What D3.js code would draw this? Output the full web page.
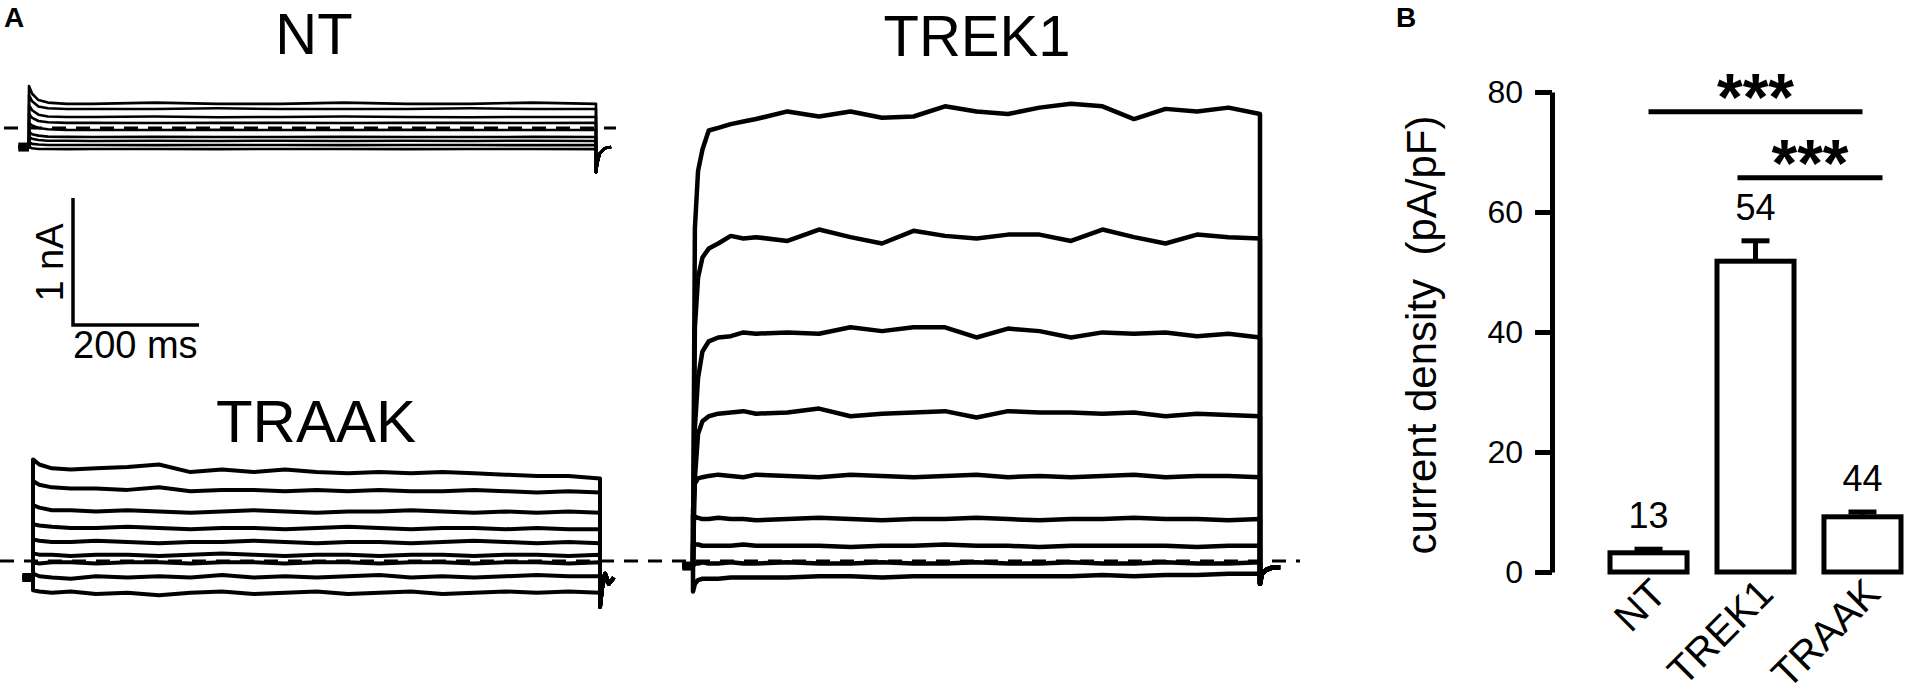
<!DOCTYPE html>
<html>
<head>
<meta charset="utf-8">
<script src="https://cdn.jsdelivr.net/npm/d3@7"></script>
<style>
  body { margin: 0; background: #fff; }
  svg { display: block; font-family: "Liberation Sans", Arial, sans-serif; }
  .pre { white-space: pre; }
</style>
</head>
<body>
<div id="fig"></div>
<script>
// ---------- panel B data ----------
var groups = ['NT', 'TREK1', 'TRAAK'];
var density = [3.2, 51.8, 9.2];      // pA/pF
var sem = [0.6, 3.4, 0.8];
var cellCount = [13, 54, 44];
var densityTicks = [0, 20, 40, 60, 80];
var comparisons = [['NT', 'TRAAK'], ['TREK1', 'TRAAK']];
var compLevels = [76.7, 65.7];
var compLabels = ['***', '***'];

// ---------- panel A data (ms, nA) ----------
var ntTime = [0, 5, 15, 30, 60, 100, 200, 300, 400, 500, 600, 700, 800, 900];
var ntTraces = [
  [0.33, 0.27, 0.22, 0.20, 0.19, 0.19, 0.20, 0.19, 0.19, 0.20, 0.19, 0.19, 0.20, 0.19],
  [0.26, 0.21, 0.17, 0.155, 0.15, 0.15, 0.15, 0.155, 0.15, 0.15, 0.15, 0.155, 0.15, 0.15],
  [0.18, 0.14, 0.105, 0.09, 0.087, 0.087, 0.09, 0.085, 0.087, 0.09, 0.087, 0.085, 0.087, 0.087],
  [0.11, 0.08, 0.055, 0.045, 0.04, 0.04, 0.039, 0.04, 0.04, 0.039, 0.04, 0.04, 0.039, 0.04],
  [0.04, 0.02, 0.0, -0.01, -0.015, -0.016, -0.016, -0.015, -0.016, -0.016, -0.015, -0.016, -0.016, -0.016],
  [-0.03, -0.05, -0.06, -0.068, -0.07, -0.071, -0.07, -0.071, -0.071, -0.07, -0.071, -0.071, -0.07, -0.071],
  [-0.07, -0.085, -0.095, -0.10, -0.10, -0.102, -0.10, -0.102, -0.10, -0.102, -0.10, -0.102, -0.10, -0.102],
  [-0.11, -0.125, -0.13, -0.134, -0.134, -0.134, -0.135, -0.134, -0.134, -0.135, -0.134, -0.134, -0.135, -0.134],
  [-0.15, -0.16, -0.165, -0.165, -0.166, -0.165, -0.165, -0.166, -0.165, -0.165, -0.166, -0.165, -0.165, -0.166]
];
var ntHold = -0.15;
var ntTailTime = [900, 902, 906, 914, 924];
var ntTail = [-0.35, -0.28, -0.2, -0.16, -0.15];

var trekTime = [0, 3, 8, 15, 25, 40, 60, 80, 100, 150, 200, 250, 300, 350, 400, 450, 500, 550, 600, 650, 700, 750, 800, 850, 900];
var trekTraces = [
  [0, 2.62, 3.07, 3.24, 3.39, 3.41, 3.44, 3.46, 3.48, 3.54, 3.50, 3.54, 3.49, 3.50, 3.58, 3.54, 3.52, 3.57, 3.60, 3.58, 3.48, 3.56, 3.54, 3.57, 3.52],
  [0, 1.84, 2.23, 2.39, 2.46, 2.50, 2.56, 2.54, 2.55, 2.52, 2.61, 2.55, 2.50, 2.60, 2.56, 2.54, 2.57, 2.57, 2.52, 2.61, 2.55, 2.50, 2.57, 2.55, 2.54],
  [0, 1.05, 1.44, 1.65, 1.73, 1.76, 1.77, 1.80, 1.79, 1.80, 1.79, 1.84, 1.81, 1.84, 1.84, 1.76, 1.83, 1.81, 1.76, 1.80, 1.79, 1.80, 1.77, 1.79, 1.76],
  [0, 0.65, 1.00, 1.10, 1.14, 1.16, 1.17, 1.18, 1.16, 1.17, 1.20, 1.14, 1.16, 1.17, 1.18, 1.13, 1.18, 1.17, 1.17, 1.16, 1.17, 1.14, 1.16, 1.15, 1.14],
  [0.40, 0.61, 0.65, 0.66, 0.67, 0.68, 0.67, 0.66, 0.68, 0.67, 0.66, 0.68, 0.67, 0.66, 0.67, 0.68, 0.66, 0.67, 0.66, 0.67, 0.68, 0.66, 0.67, 0.67, 0.66],
  [0.36, 0.35, 0.34, 0.33, 0.33, 0.34, 0.33, 0.33, 0.32, 0.33, 0.34, 0.33, 0.32, 0.33, 0.33, 0.34, 0.33, 0.32, 0.33, 0.33, 0.34, 0.33, 0.33, 0.32, 0.33],
  [0.14, 0.13, 0.13, 0.12, 0.12, 0.12, 0.12, 0.13, 0.12, 0.12, 0.12, 0.11, 0.12, 0.12, 0.13, 0.12, 0.12, 0.11, 0.12, 0.12, 0.12, 0.12, 0.11, 0.12, 0.12],
  [-0.03, -0.02, -0.02, -0.01, -0.02, -0.02, -0.01, -0.02, -0.02, -0.01, -0.02, -0.02, -0.01, -0.02, -0.02, -0.01, -0.02, -0.02, -0.01, -0.02, -0.02, -0.01, -0.02, -0.02, -0.01],
  [-0.24, -0.18, -0.15, -0.14, -0.14, -0.14, -0.13, -0.13, -0.13, -0.13, -0.12, -0.12, -0.13, -0.12, -0.12, -0.12, -0.12, -0.12, -0.12, -0.11, -0.12, -0.11, -0.11, -0.10, -0.10]
];
var trekHold = -0.04;
var trekTailTime = [900, 903, 910, 920, 932];
var trekTail = [-0.18, -0.10, -0.07, -0.05, -0.05];

var traakTime = [0, 10, 30, 60, 100, 150, 200, 250, 300, 350, 400, 450, 500, 550, 600, 650, 700, 750, 800, 850, 900];
var traakTraces = [
  [0.80, 0.76, 0.73, 0.72, 0.73, 0.74, 0.76, 0.70, 0.72, 0.70, 0.72, 0.70, 0.69, 0.70, 0.69, 0.70, 0.69, 0.68, 0.67, 0.67, 0.65],
  [0.63, 0.60, 0.58, 0.57, 0.57, 0.56, 0.58, 0.55, 0.56, 0.56, 0.55, 0.56, 0.55, 0.56, 0.55, 0.55, 0.56, 0.55, 0.54, 0.55, 0.54],
  [0.44, 0.42, 0.40, 0.40, 0.39, 0.40, 0.39, 0.38, 0.39, 0.40, 0.39, 0.38, 0.39, 0.39, 0.40, 0.39, 0.38, 0.39, 0.38, 0.39, 0.38],
  [0.29, 0.28, 0.27, 0.26, 0.26, 0.27, 0.26, 0.25, 0.26, 0.26, 0.25, 0.26, 0.27, 0.26, 0.25, 0.26, 0.26, 0.25, 0.26, 0.25, 0.25],
  [0.17, 0.16, 0.15, 0.15, 0.16, 0.15, 0.14, 0.15, 0.15, 0.16, 0.15, 0.14, 0.15, 0.15, 0.14, 0.15, 0.16, 0.15, 0.14, 0.15, 0.14],
  [0.06, 0.05, 0.05, 0.04, 0.05, 0.05, 0.04, 0.05, 0.06, 0.05, 0.04, 0.05, 0.05, 0.04, 0.05, 0.05, 0.04, 0.05, 0.05, 0.04, 0.05],
  [-0.01, -0.02, -0.01, -0.01, -0.02, -0.01, -0.01, -0.02, -0.01, -0.01, -0.02, -0.01, -0.01, -0.02, -0.01, -0.01, -0.02, -0.01, -0.01, -0.02, -0.01],
  [-0.10, -0.12, -0.13, -0.14, -0.12, -0.13, -0.12, -0.13, -0.11, -0.13, -0.12, -0.13, -0.12, -0.11, -0.13, -0.12, -0.13, -0.12, -0.11, -0.12, -0.12],
  [-0.23, -0.24, -0.25, -0.24, -0.26, -0.25, -0.27, -0.25, -0.24, -0.26, -0.25, -0.24, -0.26, -0.25, -0.24, -0.26, -0.25, -0.24, -0.25, -0.24, -0.25]
];
var traakHold = -0.13;
var traakTailTime = [900, 903, 908, 914, 922];
var traakTail = [-0.36, -0.22, -0.10, -0.18, -0.13];

// ---------- layout ----------
var width = 1905, height = 700;
var pxPerMs = 0.63, pxPerNa = 127, sweep = 900;

var svg = d3.select('#fig').append('svg')
  .attr('width', width)
  .attr('height', height);

var addText = function(txt, x, y, size, opts){
  opts = opts || {};
  return svg.append('text')
    .attr('x', x).attr('y', y)
    .attr('font-size', size)
    .attr('font-weight', opts.bold ? 'bold' : 'normal')
    .attr('text-anchor', opts.anchor || 'start')
    .attr('transform', opts.transform || null)
    .attr('fill', '#000')
    .text(txt);
};

var drawTraces = function(p){
  var x = d3.scaleLinear().domain([0, sweep]).range([p.x0, p.x0 + sweep * pxPerMs]);
  var y = d3.scaleLinear().domain([0, 1]).range([p.zero, p.zero - pxPerNa]);
  var line = d3.line().x(function(d){ return x(d[0]); }).y(function(d){ return y(d[1]); });
  var g = svg.append('g');

  // holding level before the step (all sweeps overlap here)
  g.append('path')
    .attr('d', line([[-17, p.hold], [0, p.hold]]))
    .attr('stroke', '#000').attr('stroke-width', 9).attr('fill', 'none');

  p.traces.forEach(function(tr){
    var pts = [[-17, p.hold], [0, p.hold]];
    p.time.forEach(function(t, i){ pts.push([t, tr[i]]); });
    p.tailTime.forEach(function(t, i){ pts.push([t, p.tail[i]]); });
    g.append('path')
      .attr('d', line(pts))
      .attr('stroke', '#000')
      .attr('stroke-width', p.lw)
      .attr('stroke-linejoin', 'round')
      .attr('fill', 'none');
  });
  return {x: x, y: y};
};

var dashed = function(x1, x2, yy){
  svg.append('line')
    .attr('x1', x1).attr('x2', x2).attr('y1', yy).attr('y2', yy)
    .attr('stroke', '#000').attr('stroke-width', 3)
    .attr('stroke-dasharray', '14,10');
};

// zero-current lines
dashed(4, 616, 128);
dashed(0, 1300, 561);

var nt = drawTraces({x0: 29, zero: 128, time: ntTime, traces: ntTraces, hold: ntHold,
  tailTime: ntTailTime, tail: ntTail, lw: 2.6});
drawTraces({x0: 33, zero: 561, time: traakTime, traces: traakTraces, hold: traakHold,
  tailTime: traakTailTime, tail: traakTail, lw: 4});
drawTraces({x0: 693, zero: 561, time: trekTime, traces: trekTraces, hold: trekHold,
  tailTime: trekTailTime, tail: trekTail, lw: 4.5});

// scale bar (1 nA, 200 ms) from the same scales
var sbX = 73, sbY = 325;
var sbW = nt.x(200) - nt.x(0), sbH = nt.y(0) - nt.y(1);
svg.append('path')
  .attr('d', 'M' + sbX + ',' + (sbY - sbH) + 'V' + sbY + 'H' + (sbX + sbW))
  .attr('stroke', '#000').attr('stroke-width', 3.5).attr('fill', 'none');
addText('1 nA', 0, 0, 38, {anchor: 'middle', transform: 'translate(63,' + (sbY - sbH / 2 + 1) + ') rotate(-90)'});
addText('200 ms', sbX, 358, 38);

// panel titles
addText('A', 4, 27, 28, {bold: true});
addText('NT', 314, 54, 58, {anchor: 'middle'});
addText('TREK1', 977, 56, 58, {anchor: 'middle'});
addText('TRAAK', 316, 442, 60, {anchor: 'middle'});

// ---------- panel B ----------
addText('B', 1396, 27, 28, {bold: true});

var bx = d3.scaleBand().domain(groups).range([1610, 1901]).paddingInner(0.28).paddingOuter(0);
var by = d3.scaleLinear().domain([0, 80]).range([572, 92]);
var cx = function(g){ return bx(g) + bx.bandwidth() / 2; };

var axis = svg.append('g')
  .attr('transform', 'translate(1552,0)')
  .call(d3.axisLeft(by).tickValues(densityTicks).tickSize(17).tickSizeOuter(0).tickPadding(12));
axis.selectAll('path, line').attr('stroke', '#000').attr('stroke-width', 5);
axis.selectAll('text').attr('font-size', 32).attr('fill', '#000')
  .attr('font-family', '"Liberation Sans", Arial, sans-serif');

addText('current density  (pA/pF)', 0, 0, 42, {anchor: 'middle', transform: 'translate(1436,335) rotate(-90)'})
  .attr('class', 'pre');

var bars = svg.append('g');
groups.forEach(function(g, i){
  var top = by(density[i] + sem[i]);
  bars.append('line')
    .attr('x1', cx(g)).attr('x2', cx(g))
    .attr('y1', by(density[i])).attr('y2', top)
    .attr('stroke', '#000').attr('stroke-width', 5);
  bars.append('line')
    .attr('x1', cx(g) - 14).attr('x2', cx(g) + 14)
    .attr('y1', top).attr('y2', top)
    .attr('stroke', '#000').attr('stroke-width', 5);
  bars.append('rect')
    .attr('x', bx(g)).attr('y', by(density[i]))
    .attr('width', bx.bandwidth())
    .attr('height', by(0) - by(density[i]))
    .attr('fill', '#fff').attr('stroke', '#000').attr('stroke-width', 5);
  addText(cellCount[i], cx(g), top - 21, 36, {anchor: 'middle'});
  addText(g, 0, 0, 40, {anchor: 'end', transform: 'translate(' + (cx(g) + 20) + ',596) rotate(-45)'});
});

// significance brackets
var compOffsets = [[0, 0], [-18, 20]];
comparisons.forEach(function(c, i){
  var x1 = cx(c[0]) + compOffsets[i][0], x2 = cx(c[1]) + compOffsets[i][1];
  var yy = by(compLevels[i]);
  svg.append('line')
    .attr('x1', x1).attr('x2', x2).attr('y1', yy).attr('y2', yy)
    .attr('stroke', '#000').attr('stroke-width', 5);
  addText(compLabels[i], (x1 + x2) / 2, yy + 8, 66, {anchor: 'middle', bold: true});
});
</script>
</body>
</html>
